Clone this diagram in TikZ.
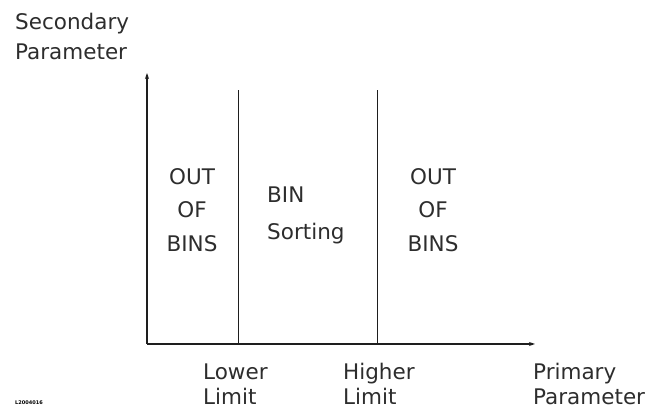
\documentclass[tikz,border=0pt]{standalone}
\usepackage{fontspec}
\setmainfont{DejaVu Sans}
\usepackage{xcolor}
\usepackage{tikz}
\usetikzlibrary{
  arrows.meta,
  positioning
}
\definecolor{InkBlack}{RGB}{30, 30, 30}
\definecolor{InkGray}{RGB}{45, 45, 45}
\tikzset{
    axisline/.style={draw=InkBlack, line width=1.3pt, -{Stealth[length=6pt, width=4pt]}},
    limitline/.style={draw=InkBlack, line width=1pt},
    lbl/.style={inner sep=0pt, text=InkGray, font=\fontsize{21.5}{25}\selectfont},
    lblw/.style={lbl, anchor=base west},
    lblc/.style={lbl, anchor=base},
}

\begin{document}
\begin{tikzpicture}[x=1pt, y=-1pt]
    \useasboundingbox (0,0) rectangle (657,419);
    % axes
    \coordinate (origin) at (147,344);
    \coordinate (ytip) at (147,73);
    \coordinate (xtip) at (535,344);
    \draw[axisline] (origin) -- (ytip);
    \draw[axisline] (origin) -- (xtip);
    % limit lines
    \coordinate (lowtop) at (238,90);
    \coordinate (lowbot) at (238,344);
    \coordinate (hightop) at (377,90);
    \coordinate (highbot) at (377,344);
    \draw[limitline] (lowbot) -- (lowtop);
    \draw[limitline] (highbot) -- (hightop);
    % axis titles
    \node[lblw] (secname) at (15,30) {Secondary};
    \node[lblw] (secparam) at (15,60) {Parameter};
    \node[lblw] (priname) at (533,380) {Primary};
    \node[lblw] (priparam) at (533,405) {Parameter};
    % limits
    \node[lblw] (lowname) at (203,380) {Lower};
    \node[lblw] (lowlimit) at (203,405) {Limit};
    \node[lblw] (highname) at (343,380) {Higher};
    \node[lblw] (highlimit) at (343,405) {Limit};
    % regions
    \node[lblc] (leftout) at (192,185) {OUT};
    \node[lblc] (leftof) at (192,218) {OF};
    \node[lblc] (leftbins) at (192,252) {BINS};
    \node[lblw] (binname) at (267,203) {BIN};
    \node[lblw] (binsort) at (267,240) {Sorting};
    \node[lblc] (rightout) at (433,185) {OUT};
    \node[lblc] (rightof) at (433,218) {OF};
    \node[lblc] (rightbins) at (433,252) {BINS};
    % figure id
    \node[inner sep=0pt, anchor=base west, font=\fontsize{5}{6}\selectfont\bfseries] (figid) at (15,405) {L2004016};
\end{tikzpicture}
\end{document}
